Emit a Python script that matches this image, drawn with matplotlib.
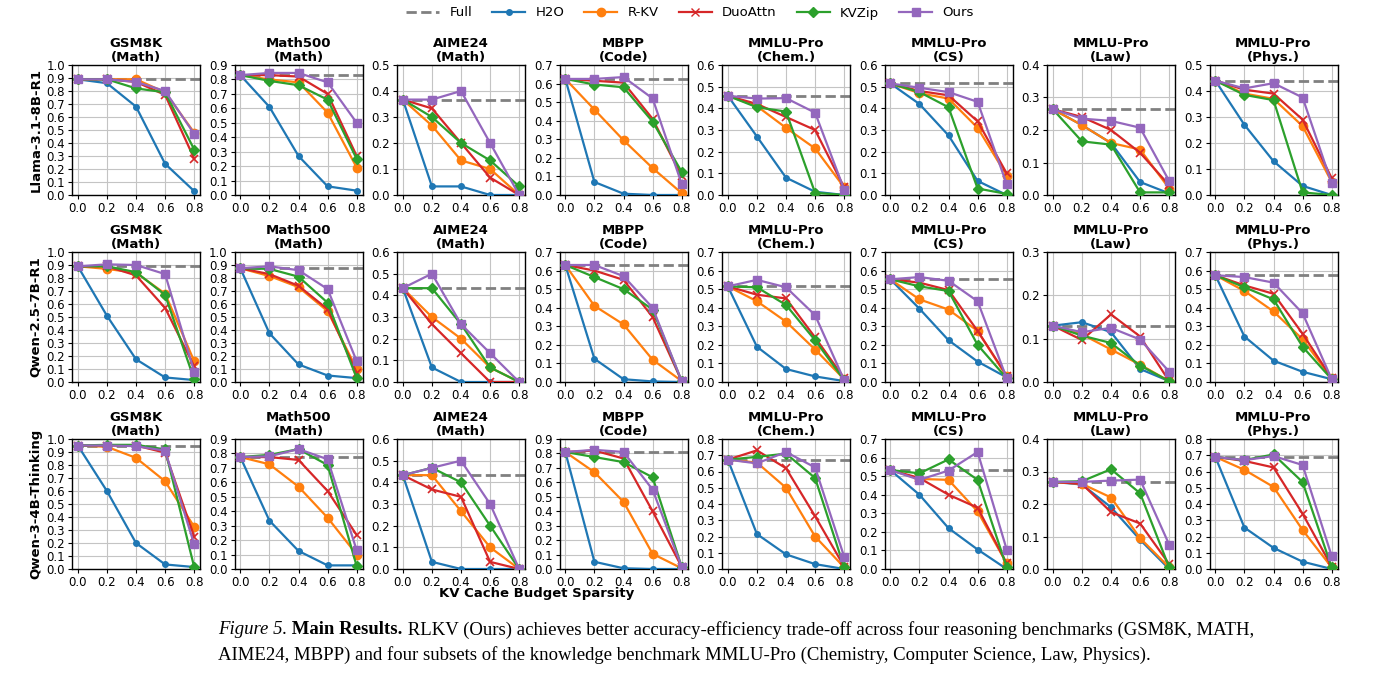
import matplotlib.pyplot as plt
import numpy as np

x = [0.0, 0.2, 0.4, 0.6, 0.8]
models = ['Llama-3.1-8B-R1', 'Qwen-2.5-7B-R1', 'Qwen-3-4B-Thinking']
titles = ['GSM8K\n(Math)', 'Math500\n(Math)', 'AIME24\n(Math)', 'MBPP\n(Code)',
          'MMLU-Pro\n(Chem.)', 'MMLU-Pro\n(CS)', 'MMLU-Pro\n(Law)', 'MMLU-Pro\n(Phys.)']

# y-axis upper limits per row
ymax = [[1.0, 0.9, 0.5, 0.7, 0.6, 0.6, 0.4, 0.5],
        [1.0, 1.0, 0.6, 0.7, 0.7, 0.7, 0.3, 0.7],
        [1.0, 0.9, 0.6, 0.9, 0.8, 0.7, 0.4, 0.8]]

full = [[0.89, 0.83, 0.367, 0.625, 0.458, 0.515, 0.264, 0.44],
        [0.89, 0.875, 0.433, 0.63, 0.515, 0.553, 0.13, 0.575],
        [0.95, 0.775, 0.433, 0.81, 0.673, 0.533, 0.268, 0.69]]

h2o = [[[.89,.86,.68,.24,.03],[.83,.61,.27,.06,.03],[.367,.033,.033,0,0],[.625,.07,.007,0,0],
        [.458,.27,.08,.015,0],[.515,.42,.275,.065,0],[.264,.215,.16,.04,.005],[.44,.27,.13,.035,0]],
       [[.89,.51,.175,.035,.015],[.875,.375,.135,.05,.03],[.433,.067,0,0,0],[.63,.125,.015,.003,0],
        [.515,.19,.07,.03,.005],[.553,.395,.225,.11,.025],[.13,.138,.115,.03,.002],[.575,.245,.115,.055,.015]],
       [[.95,.60,.20,.035,.015],[.775,.335,.125,.025,.025],[.433,.033,0,0,0],[.81,.05,.005,0,0],
        [.673,.215,.09,.03,0],[.533,.40,.22,.105,0],[.268,.26,.19,.09,0],[.69,.255,.13,.045,0]]]

rkv = [[[.89,.89,.89,.79,.48],[.83,.80,.78,.57,.19],[.367,.267,.133,.10,0],[.625,.46,.295,.145,.01],
        [.458,.41,.31,.215,.035],[.515,.47,.445,.31,.09],[.264,.215,.16,.14,.02],[.44,.39,.37,.265,.05]],
       [[.89,.87,.84,.68,.16],[.875,.815,.73,.545,.10],[.433,.30,.20,.067,0],[.63,.41,.31,.12,.005],
        [.515,.435,.325,.175,.015],[.553,.445,.39,.275,.03],[.13,.11,.075,.04,.002],[.575,.49,.38,.23,.02]],
       [[.95,.94,.855,.675,.325],[.775,.725,.57,.355,.10],[.433,.433,.267,.10,0],[.81,.67,.465,.105,.005],
        [.673,.655,.50,.20,.01],[.533,.485,.48,.31,.03],[.268,.262,.22,.095,.005],[.69,.61,.505,.24,.01]]]

duo = [[[.89,.89,.87,.77,.28],[.83,.83,.82,.70,.27],[.367,.333,.20,.067,0],[.625,.615,.605,.41,.10],
        [.458,.42,.36,.30,.035],[.515,.48,.46,.34,.10],[.264,.24,.20,.13,.03],[.44,.405,.39,.29,.065]],
       [[.89,.89,.82,.57,.12],[.875,.83,.74,.56,.07],[.433,.267,.133,0,0],[.63,.60,.55,.35,.005],
        [.515,.47,.45,.24,.02],[.553,.535,.495,.275,.035],[.13,.097,.156,.105,.002],[.575,.52,.475,.26,.02]],
       [[.95,.95,.95,.895,.25],[.775,.775,.755,.54,.235],[.433,.367,.333,.033,0],[.81,.82,.765,.40,.015],
        [.673,.73,.62,.325,.015],[.533,.49,.40,.33,.03],[.268,.262,.175,.14,.015],[.69,.665,.625,.34,.015]]]

kvzip = [[[.89,.89,.82,.79,.35],[.83,.79,.76,.66,.25],[.367,.30,.20,.133,.033],[.625,.595,.58,.395,.125],
          [.458,.405,.385,.01,0],[.515,.475,.405,.03,.005],[.264,.165,.155,.008,.008],[.44,.385,.365,.01,0]],
         [[.89,.89,.845,.67,.02],[.875,.87,.81,.61,.03],[.433,.433,.267,.067,0],[.63,.565,.50,.39,.005],
          [.515,.51,.415,.225,.01],[.553,.515,.49,.20,.02],[.13,.107,.09,.038,.002],[.575,.51,.445,.19,.015]],
         [[.95,.955,.955,.92,.015],[.775,.79,.83,.72,.02],[.433,.467,.40,.20,0],[.81,.775,.74,.635,.015],
          [.673,.69,.71,.56,.01],[.533,.515,.59,.48,.01],[.268,.27,.307,.233,.005],[.69,.67,.705,.535,.01]]]

ours = [[[.89,.89,.87,.80,.47],[.83,.845,.845,.78,.50],[.367,.367,.40,.20,0],[.625,.625,.635,.52,.06],
         [.458,.445,.447,.38,.025],[.515,.495,.475,.43,.05],[.264,.235,.228,.207,.043],[.44,.41,.43,.375,.045]],
        [[.89,.905,.90,.83,.08],[.875,.89,.86,.715,.16],[.433,.50,.267,.133,0],[.63,.63,.57,.40,.005],
         [.515,.55,.51,.36,.01],[.553,.565,.545,.435,.02],[.13,.115,.125,.098,.024],[.575,.565,.535,.37,.015]],
        [[.95,.95,.945,.91,.19],[.775,.78,.83,.76,.13],[.433,.467,.50,.30,0],[.81,.825,.81,.55,.015],
         [.673,.65,.72,.625,.075],[.533,.48,.53,.63,.105],[.268,.268,.272,.275,.075],[.69,.67,.695,.64,.08]]]

methods = [('H2O', h2o, '#1f77b4', 'o', 4),
           ('R-KV', rkv, '#ff7f0e', 'o', 6),
           ('DuoAttn', duo, '#d62728', 'x', 6),
           ('KVZip', kvzip, '#2ca02c', 'D', 5),
           ('Ours', ours, '#9467bd', 's', 6)]

W, H = 1380, 676
fig = plt.figure(figsize=(W / 100, H / 100), dpi=100)
tick_fs = 8.5

for r in range(3):
    top = [65, 252, 439][r]
    for c in range(8):
        left = 72 + 162.5 * c
        ax = fig.add_axes([left / W, 1 - (top + 130) / H, 128 / W, 130 / H])
        ax.axhline(full[r][c], color='gray', ls='--', lw=2, zorder=1)
        for name, data, col, mk, ms in methods:
            ax.plot(x, data[r][c], color=col, marker=mk, ms=ms, lw=1.6,
                    mew=1.2 if mk == 'x' else 1, zorder=3)
        ax.set_xlim(-0.04, 0.84)
        ax.set_ylim(0, ymax[r][c])
        ax.set_xticks(x)
        ax.set_yticks(np.arange(0, ymax[r][c] + 1e-9, 0.1))
        ax.yaxis.set_major_formatter(plt.FormatStrFormatter('%.1f'))
        ax.tick_params(labelsize=tick_fs, length=3, pad=2)
        ax.grid(True, color='#c4c4c4', lw=0.8)
        ax.set_axisbelow(True)
        for sp in ax.spines.values():
            sp.set_linewidth(1.0)
        ax.set_title(titles[c], fontsize=9.5, fontweight='bold', pad=3, linespacing=1.1)
        if c == 0:
            ax.set_ylabel(models[r], fontsize=9.5, fontweight='bold', labelpad=3)

fig.text(537 / W, 1 - 593 / H, 'KV Cache Budget Sparsity', ha='center', va='center',
         fontsize=9.5, fontweight='bold')

handles = [plt.Line2D([], [], color='gray', ls='--', lw=2)]
labels = ['Full']
for name, data, col, mk, ms in methods:
    handles.append(plt.Line2D([], [], color=col, marker=mk, ms=ms, lw=1.6))
    labels.append(name)
fig.legend(handles, labels, loc='center', bbox_to_anchor=(690 / W, 1 - 13 / H), ncol=6,
           frameon=False, fontsize=9.5, handlelength=2.5, columnspacing=1.5)

# caption
fig.canvas.draw()
renderer = fig.canvas.get_renderer()
cap_fs = 13.5
serif = 'Liberation Serif'
xpos = 218 / W
y1 = 1 - 630 / H
for txt, style, weight in [('Figure 5.', 'italic', 'normal'), (' Main Results.', 'normal', 'bold'),
                           (' RLKV (Ours) achieves better accuracy-efficiency trade-off across four reasoning benchmarks (GSM8K, MATH,',
                            'normal', 'normal')]:
    t = fig.text(xpos, y1, txt, fontsize=cap_fs, family=serif, style=style, weight=weight,
                 va='center', ha='left')
    bb = t.get_window_extent(renderer)
    xpos = bb.x1 / W
fig.text(218 / W, 1 - 655 / H,
         'AIME24, MBPP) and four subsets of the knowledge benchmark MMLU-Pro (Chemistry, Computer Science, Law, Physics).',
         fontsize=cap_fs, family=serif, va='center', ha='left')

fig.savefig('out.png', dpi=100)
